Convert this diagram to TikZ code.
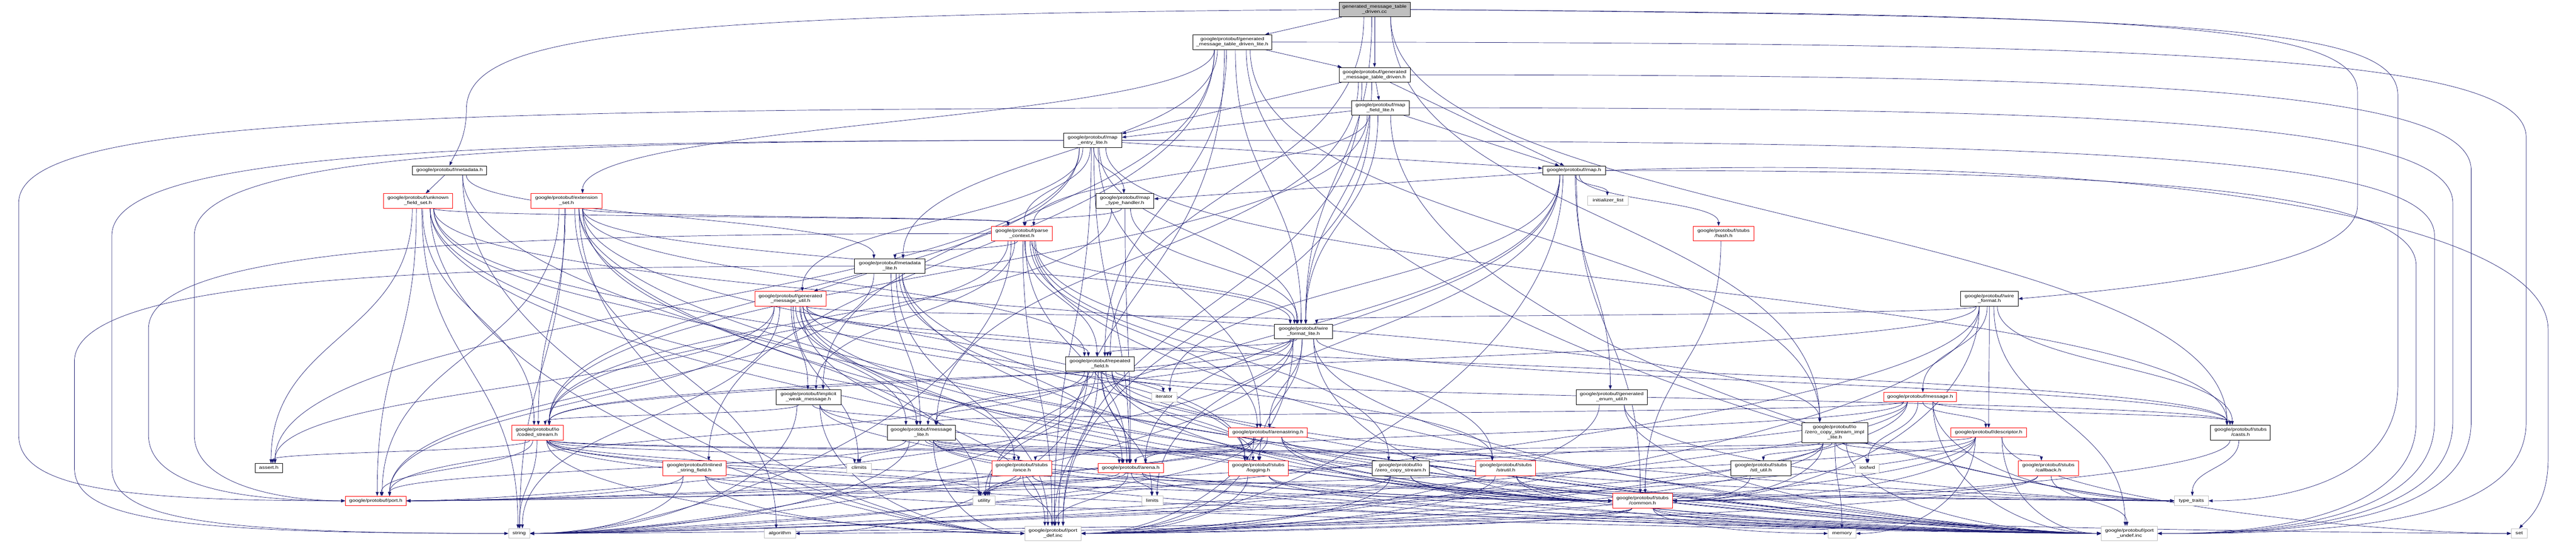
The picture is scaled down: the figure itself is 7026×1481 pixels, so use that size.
\documentclass[tikz,border=0pt]{standalone}
\usepackage{fontspec}
\setmainfont{Liberation Sans}
\usepackage{graphicx}
\usetikzlibrary{arrows.meta,calc}
\definecolor{edgec}{HTML}{191970}
\definecolor{gseven}{HTML}{BFBFBF}
\pgfdeclarelayer{bg}
\pgfsetlayers{bg,main}
\newcommand\tx[1]{\scalebox{1}[0.8]{\begin{tabular}{@{}c@{}}#1\end{tabular}}}
\newcommand\ND[6]{\node[#1,minimum width=#4pt,minimum height=#5pt] (#2) at (#3) {\tx{#6}};}
\newcommand\ET[2]{\draw[e] let \p1=(#1.south),\p2=(#2.north),\p3=(#1.east),\p4=(#2.east),
  \n1={max(-0.45,min(0.45,(\x2-\x1)/2500))},\n2={\x3-\x1},\n3={\x4-\x2},\n4={max(25,0.5*(\y1-\y2))}
  in (\x1+\n1*\n2,\y1) .. controls (\x1+\n1*\n2,\y1-\n4) and (\x2-\n1*\n3,\y2+\n4) .. (\x2-\n1*\n3,\y2);}
\newcommand\EL[2]{\draw[e] let \p1=(#1.south),\p2=(#2.west),\p3=(#1.east),\n2={\x3-\x1},
  \n4={max(25,0.6*(\y1-\y2))},\n5={min(400,max(40,0.45*(\x2-\x1)))}
  in (\x1+0.35*\n2,\y1) .. controls (\x1+0.35*\n2,\y1-\n4) and (\x2-\n5,\y2) .. (\p2);}
\newcommand\ER[2]{\draw[e] let \p1=(#1.south),\p2=(#2.east),\p3=(#1.east),\n2={\x3-\x1},
  \n4={max(25,0.6*(\y1-\y2))},\n5={min(400,max(40,0.45*(\x1-\x2)))}
  in (\x1-0.35*\n2,\y1) .. controls (\x1-0.35*\n2,\y1-\n4) and (\x2+\n5,\y2) .. (\p2);}
\newcommand\ES[2]{\draw[e] (#1) -- (#2);}
\newcommand\RR[3]{\draw[e] (#1.east) .. controls ({#2-900},#3) and (#2,{#3-40}) .. (#2,{#3-260}) -- (#2,-1150) .. controls (#2,-1400) and ({#2-400},-1458) .. (portundef.east);}
\newcommand\RL[5]{\draw[e] (#1.west) .. controls ({#2+900},#3) and (#2,{#3-40}) .. (#2,{#3-260}) -- (#2,{#5+180}) .. controls (#2,{#5+40}) and ({#2+250},#5) .. (#4.west);}
\tikzset{
  box/.style={draw, fill=white, inner sep=0pt, line width=1.2pt, font=\fontsize{14.8}{17.5}\selectfont},
  nb/.style={box, draw=black},
  nr/.style={box, draw=red},
  ng/.style={box, draw=gseven},
  topn/.style={box, draw=black, fill=gseven},
  e/.style={draw=edgec, line width=1pt, -{Triangle[length=11pt,width=8pt]}}
}
\begin{document}
\begin{tikzpicture}[x=1pt,y=1pt]
\useasboundingbox (0,0) rectangle (7026,-1481);
\ND{topn}{cc}{3749,-26}{194}{40}{generated\_message\_table\\\_driven.cc}
\ND{nb}{gmtdl}{3361,-115}{216}{40}{google/protobuf/generated\\\_message\_table\_driven\_lite.h}
\ND{nb}{gmtd}{3749,-204}{194}{40}{google/protobuf/generated\\\_message\_table\_driven.h}
\ND{nb}{mfl}{3765,-294}{158}{40}{google/protobuf/map\\\_field\_lite.h}
\ND{nb}{mel}{2980,-383}{159}{40}{google/protobuf/map\\\_entry\_lite.h}
\ND{nb}{map}{4293,-465}{171}{25}{google/protobuf/map.h}
\ND{nb}{meta}{1226,-465}{203}{25}{google/protobuf/metadata.h}
\ND{nr}{ufs}{1140,-548}{189}{40}{google/protobuf/unknown\\\_field\_set.h}
\ND{nr}{es}{1545,-548}{194}{40}{google/protobuf/extension\\\_set.h}
\ND{nb}{mth}{3068,-548}{158}{40}{google/protobuf/map\\\_type\_handler.h}
\ND{ng}{init}{4386,-547}{111}{26}{initializer\_list}
\ND{nr}{pc}{2787,-637}{165}{40}{google/protobuf/parse\\\_context.h}
\ND{nr}{hash}{4701,-637}{165}{40}{google/protobuf/stubs\\/hash.h}
\ND{nb}{ml}{2427,-726}{192}{40}{google/protobuf/metadata\\\_lite.h}
\ND{nr}{gmu}{2156,-815}{195}{40}{google/protobuf/generated\\\_message\_util.h}
\ND{nb}{wf}{5426,-815}{157}{40}{google/protobuf/wire\\\_format.h}
\ND{nb}{wfl}{3555,-904}{158}{40}{google/protobuf/wire\\\_format\_lite.h}
\ND{nb}{rf}{3000,-993}{186}{40}{google/protobuf/repeated\\\_field.h}
\ND{nb}{iwm}{2205,-1083}{177}{40}{google/protobuf/implicit\\\_weak\_message.h}
\ND{nb}{geu}{4396,-1083}{193}{40}{google/protobuf/generated\\\_enum\_util.h}
\ND{ng}{iter}{3175,-1083}{69}{26}{iterator}
\ND{nr}{msg}{5237,-1083}{198}{25}{google/protobuf/message.h}
\ND{nr}{cs}{1466,-1180}{141}{40}{google/protobuf/io\\/coded\_stream.h}
\ND{nb}{msl}{2513,-1180}{186}{40}{google/protobuf/message\\\_lite.h}
\ND{nr}{as}{3458,-1180}{215}{25}{google/protobuf/arenastring.h}
\ND{nb}{zcsil}{5004,-1180}{180}{55}{google/protobuf/io\\/zero\_copy\_stream\_impl\\\_lite.h}
\ND{nr}{desc}{5424,-1180}{206}{25}{google/protobuf/descriptor.h}
\ND{nb}{casts}{6111,-1180}{163}{40}{google/protobuf/stubs\\/casts.h}
\ND{nb}{assert}{733,-1277}{75}{25}{assert.h}
\ND{nr}{isf}{1894,-1277}{173}{40}{google/protobuf/inlined\\\_string\_field.h}
\ND{ng}{climits}{2343,-1277}{68}{26}{climits}
\ND{nr}{once}{2787,-1277}{163}{40}{google/protobuf/stubs\\/once.h}
\ND{nr}{arena}{3084,-1277}{178}{25}{google/protobuf/arena.h}
\ND{nr}{logging}{3432,-1277}{163}{40}{google/protobuf/stubs\\/logging.h}
\ND{nb}{zcs}{3820,-1277}{156}{40}{google/protobuf/io\\/zero\_copy\_stream.h}
\ND{nr}{strutil}{4107,-1277}{163}{40}{google/protobuf/stubs\\/strutil.h}
\ND{nb}{stl}{4803,-1277}{164}{40}{google/protobuf/stubs\\/stl\_util.h}
\ND{ng}{iosfwd}{5093,-1277}{64}{26}{iosfwd}
\ND{nr}{callback}{5587,-1277}{164}{40}{google/protobuf/stubs\\/callback.h}
\ND{nr}{port}{1025,-1366}{166}{25}{google/protobuf/port.h}
\ND{ng}{utility}{2684,-1366}{60}{26}{utility}
\ND{ng}{limits}{3143,-1366}{57}{26}{limits}
\ND{nr}{common}{4480,-1366}{163}{40}{google/protobuf/stubs\\/common.h}
\ND{ng}{tt}{5977,-1366}{92}{26}{type\_traits}
\ND{ng}{string}{1416,-1455}{58}{26}{string}
\ND{ng}{algorithm}{2127,-1455}{85}{26}{algorithm}
\ND{ng}{portdef}{2872,-1455}{154}{40}{google/protobuf/port\\\_def.inc}
\ND{ng}{memory}{5024,-1455}{76}{26}{memory}
\ND{ng}{portundef}{5808,-1455}{153}{40}{google/protobuf/port\\\_undef.inc}
\ND{ng}{set}{6871,-1455}{43}{26}{set}
\begin{pgfonlayer}{bg}
% cc
\ES{cc.193}{gmtdl.13}
\ET{cc}{gmtd}
\ET{cc}{casts}
\ET{cc}{zcsil}
\ET{cc}{rf}
\ET{cc}{wfl}
\draw[e] (cc.west) .. controls (1700,-40) and (1272,-100) .. (1272,-300) .. controls (1272,-380) and (1240,-420) .. (meta.north);
\draw[e] (cc.east) .. controls (5800,-40) and (6430,-60) .. (6430,-250) -- (6430,-560) .. controls (6430,-720) and (5900,-780) .. (wf.east);
\draw[e] (cc.east) .. controls (6000,-45) and (6540,-70) .. (6540,-260) -- (6540,-1050) .. controls (6540,-1300) and (6250,-1366) .. (tt.east);
% gmtdl
\ES{gmtdl.347}{gmtd.167}
\ET{gmtdl}{zcsil}
\ET{gmtdl}{es}
\ET{gmtdl}{iwm}
\ET{gmtdl}{isf}
\ET{gmtdl}{ml}
\ET{gmtdl}{rf}
\ET{gmtdl}{wfl}
\ET{gmtdl}{portdef}
\EL{gmtdl}{tt}
\RR{gmtdl}{6890}{-115}
% gmtd
\ES{gmtd.334}{map.154}
\ES{gmtd.193}{mel.13}
\ES{gmtd.280}{mfl.100}
\ET{gmtd}{msl}
\ET{gmtd}{wfl}
\ET{gmtd}{portdef}
\RR{gmtd}{6740}{-204}
% mfl
\EL{mfl}{tt}
\ET{mfl}{pc}
\ET{mfl}{cs}
\ES{mfl.342}{map.162}
\ES{mfl.186}{mel.6}
\RL{mfl}{51}{-294}{port}{-1366}
\ET{mfl}{wfl}
\ET{mfl}{portdef}
\RR{mfl}{6690}{-294}
% mel
\ET{mel}{assert}
\RL{mel}{305}{-383}{string}{-1455}
\ET{mel}{casts}
\ET{mel}{pc}
\ET{mel}{cs}
\ET{mel}{arena}
\ET{mel}{as}
\ET{mel}{gmu}
\ES{mel.356}{map.176}
\ET{mel}{mth}
\RL{mel}{530}{-383}{port}{-1366}
\ET{mel}{wfl}
\ET{mel}{portdef}
\RR{mel}{6640}{-383}
% map
\ET{map}{init}
\ET{map}{iter}
\ET{map}{limits}
\draw[e] (map.east) .. controls (5600,-420) and (6950,-560) .. (6950,-900) -- (6950,-1250) .. controls (6950,-1380) and (6890,-1420) .. (set.north);
\ET{map}{utility}
\ET{map}{common}
\ET{map}{arena}
\ET{map}{geu}
\ES{map.184}{mth.4}
\ET{map}{hash}
\ER{map}{portdef}
\RR{map}{6590}{-465}
% meta
\ET{meta}{ml}
\ES{meta.224}{ufs.44}
\EL{meta}{portdef}
\EL{meta}{portundef}
% ml
\RL{ml}{203}{-726}{string}{-1455}
\ES{ml.198}{gmu.18}
\EL{ml}{common}
\ET{ml}{arena}
\ET{ml}{msl}
\ET{ml}{port}
\ET{ml}{portdef}
\EL{ml}{portundef}
% ufs
\ET{ufs}{assert}
\ET{ufs}{string}
\EL{ufs}{common}
\ET{ufs}{logging}
\ET{ufs}{pc}
\ET{ufs}{cs}
\ET{ufs}{zcsil}
\ET{ufs}{msl}
\ET{ufs}{port}
\EL{ufs}{portdef}
\EL{ufs}{portundef}
% es
\ET{es}{algorithm}
\ET{es}{string}
\ET{es}{utility}
\EL{es}{common}
\ET{es}{logging}
\ET{es}{pc}
\ET{es}{cs}
\ET{es}{port}
\ET{es}{rf}
\ET{es}{wfl}
\EL{es}{portdef}
\EL{es}{portundef}
% mth
\ET{mth}{pc}
\ET{mth}{cs}
\ET{mth}{arena}
\ET{mth}{wfl}
% pc
\ER{pc}{string}
\ET{pc}{cs}
\ET{pc}{zcs}
\ET{pc}{arena}
\ET{pc}{as}
\ET{pc}{iwm}
\ET{pc}{ml}
\RL{pc}{405}{-637}{port}{-1366}
\ET{pc}{rf}
\ET{pc}{wfl}
\ET{pc}{strutil}
\ET{pc}{portdef}
\EL{pc}{portundef}
% hash
\ET{hash}{common}
% gmu
\ET{gmu}{assert}
\ET{gmu}{climits}
\ET{gmu}{string}
\EL{gmu}{common}
\ET{gmu}{iwm}
\ET{gmu}{msl}
\ET{gmu}{once}
\ET{gmu}{port}
\ET{gmu}{rf}
\ET{gmu}{wfl}
\ET{gmu}{casts}
\ET{gmu}{strutil}
\ET{gmu}{portdef}
\EL{gmu}{portundef}
% wf
\ER{wf}{string}
\ER{wf}{common}
\ET{wf}{desc}
\ET{wf}{msg}
\ET{wf}{cs}
\ET{wf}{wfl}
\ET{wf}{casts}
\ER{wf}{portdef}
\ET{wf}{portundef}
% wfl
\ER{wfl}{string}
\EL{wfl}{common}
\ET{wfl}{logging}
\ET{wfl}{cs}
\ET{wfl}{as}
\ET{wfl}{msl}
\ER{wfl}{port}
\ET{wfl}{rf}
\ET{wfl}{casts}
\ER{wfl}{portdef}
\EL{wfl}{portundef}
% rf
\ET{rf}{utility}
\ER{rf}{algorithm}
\ET{rf}{iter}
\ET{rf}{limits}
\ER{rf}{string}
\EL{rf}{tt}
\ET{rf}{logging}
\EL{rf}{common}
\ET{rf}{arena}
\ET{rf}{msl}
\ET{rf}{port}
\ET{rf}{casts}
\ET{rf}{portdef}
\EL{rf}{portundef}
% iwm
\ER{iwm}{string}
\ET{iwm}{cs}
\ET{iwm}{arena}
\ET{iwm}{msl}
\EL{iwm}{portdef}
\EL{iwm}{portundef}
% geu
\EL{geu}{tt}
\ER{geu}{portdef}
\EL{geu}{portundef}
% msg
\ET{msg}{iosfwd}
\ER{msg}{string}
\EL{msg}{tt}
\ET{msg}{arena}
\ET{msg}{desc}
\ET{msg}{msl}
\ER{msg}{port}
\ET{msg}{casts}
\ER{msg}{portdef}
\EL{msg}{portundef}
% cs
\ET{cs}{assert}
\ET{cs}{climits}
\ET{cs}{string}
\EL{cs}{tt}
\ET{cs}{utility}
\ET{cs}{port}
\EL{cs}{common}
\ET{cs}{logging}
\ET{cs}{strutil}
\EL{cs}{portdef}
\EL{cs}{portundef}
% msl
\ET{msl}{climits}
\ER{msl}{string}
\EL{msl}{common}
\ET{msl}{logging}
\ET{msl}{arena}
\ET{msl}{once}
\ET{msl}{port}
\ET{msl}{strutil}
\EL{msl}{portdef}
\EL{msl}{portundef}
% as
\ER{as}{string}
\EL{as}{tt}
\ET{as}{utility}
\EL{as}{common}
\ET{as}{logging}
\ET{as}{arena}
\ER{as}{port}
\ER{as}{portdef}
\EL{as}{portundef}
% zcsil
\ET{zcsil}{iosfwd}
\ET{zcsil}{memory}
\ER{zcsil}{string}
\ET{zcsil}{zcs}
\ET{zcsil}{callback}
\ER{zcsil}{common}
\ET{zcsil}{stl}
\ER{zcsil}{portdef}
\EL{zcsil}{portundef}
% desc
\ER{desc}{memory}
\EL{desc}{set}
\ER{desc}{string}
\ER{desc}{common}
\ET{desc}{once}
\ER{desc}{port}
\ER{desc}{portdef}
\EL{desc}{portundef}
% casts
\ER{casts}{common}
\ET{casts}{tt}
% isf
\ER{isf}{string}
\ET{isf}{utility}
\ER{isf}{port}
\EL{isf}{portdef}
\EL{isf}{portundef}
% once
\ET{once}{utility}
\ET{once}{portdef}
\EL{once}{portundef}
% arena
\ET{arena}{limits}
\EL{arena}{tt}
\ET{arena}{utility}
\ER{arena}{port}
\ET{arena}{portdef}
\EL{arena}{portundef}
% logging
\EL{logging}{common}
\ER{logging}{portdef}
\EL{logging}{portundef}
% zcs
\ER{zcs}{string}
\EL{zcs}{common}
\ER{zcs}{portdef}
\EL{zcs}{portundef}
% strutil
\EL{strutil}{common}
\ER{strutil}{portdef}
\EL{strutil}{portundef}
% stl
\ER{stl}{common}
% callback
\ER{callback}{common}
\ER{callback}{portdef}
\ET{callback}{portundef}
% common
\ER{common}{algorithm}
\EL{common}{memory}
\EL{common}{set}
\ER{common}{string}
\ER{common}{portdef}
\EL{common}{portundef}
\end{pgfonlayer}
\end{tikzpicture}
\end{document}
